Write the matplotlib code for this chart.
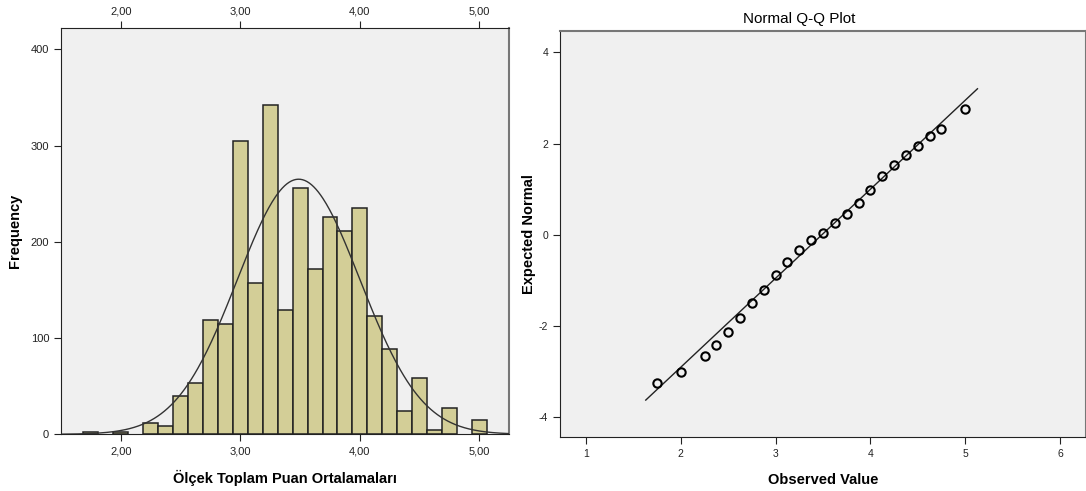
import numpy as np
import matplotlib
matplotlib.use("Agg")
import matplotlib.pyplot as plt
from matplotlib.ticker import FuncFormatter

plt.rcParams['font.family'] = ['Liberation Sans', 'DejaVu Sans']
plt.rcParams['axes.unicode_minus'] = False

# histogram bins (centres, width 0.125) and counts
bin_centers = [1.75, 2.0, 2.25, 2.375, 2.5, 2.625, 2.75, 2.875, 3.0, 3.125,
               3.25, 3.375, 3.5, 3.625, 3.75, 3.875, 4.0, 4.125, 4.25, 4.375,
               4.5, 4.625, 4.75, 5.0]
counts = [2, 2, 12, 9, 40, 53, 119, 115, 305, 157,
          342, 129, 256, 172, 226, 211, 235, 123, 89, 24,
          59, 4, 27, 15]
bin_width = 0.125

# Q-Q plot points
qq_observed = [1.75, 2.0, 2.25, 2.375, 2.5, 2.625, 2.75, 2.875, 3.0, 3.125,
               3.25, 3.375, 3.5, 3.625, 3.75, 3.875, 4.0, 4.125, 4.25, 4.375,
               4.5, 4.625, 4.75, 5.0]
qq_expected = [-3.26, -3.00, -2.65, -2.41, -2.12, -1.82, -1.50, -1.22, -0.89, -0.60,
               -0.34, -0.12, 0.05, 0.27, 0.45, 0.69, 0.98, 1.29, 1.54, 1.74,
               1.94, 2.16, 2.32, 2.77]
qq_line_x = [1.63, 5.13]

hist_xticks = [2.0, 3.0, 4.0, 5.0]
hist_yticks = [0, 100, 200, 300, 400]
qq_xticks = [1, 2, 3, 4, 5, 6]
qq_yticks = [-4, -2, 0, 2, 4]

bg = '#f0f0f0'
bar_color = '#d3ce97'

# normal fit from the binned data
c = np.array(bin_centers)
n = np.array(counts)
total = n.sum()
mean = (c * n).sum() / total
sd = np.sqrt(((c - mean) ** 2 * n).sum() / (total - 1))

fig = plt.figure(figsize=(10.86, 4.91), dpi=100)

# --- histogram ---
ax1 = fig.add_axes([61 / 1086, 1 - 434.3 / 491, 448.3 / 1086, 406 / 491])
ax1.set_facecolor(bg)
ax1.bar(bin_centers, counts, width=bin_width, color=bar_color,
        edgecolor='#222222', linewidth=1.1, zorder=2)
xs = np.linspace(1.5, 5.25, 400)
pdf = total * bin_width * np.exp(-0.5 * ((xs - mean) / sd) ** 2) / (sd * np.sqrt(2 * np.pi))
ax1.plot(xs, pdf, color='#333333', linewidth=1.0, zorder=3)
ax1.set_xlim(1.5, 5.25)
ax1.set_ylim(0, 422)
ax1.set_xticks(hist_xticks)
ax1.set_yticks(hist_yticks)
ax1.xaxis.set_major_formatter(FuncFormatter(lambda v, p: ('%.2f' % v).replace('.', ',')))
ax1.tick_params(axis='x', top=True, labeltop=True, direction='out', length=5,
                labelsize=8, colors='#222222')
ax1.tick_params(axis='y', direction='out', length=5, labelsize=8, colors='#222222')
ax1.set_ylabel('Frequency', fontsize=10.5, fontweight='bold', labelpad=6)
ax1.set_xlabel('Ölçek Toplam Puan Ortalamaları', fontsize=10.5, fontweight='bold', labelpad=10)
for s in ['left', 'bottom', 'top']:
    ax1.spines[s].set_color('#222222')
ax1.spines['right'].set_color('#777777')
ax1.spines['right'].set_linewidth(1.5)

# --- normal Q-Q plot ---
ax2 = fig.add_axes([560 / 1086, 1 - 437.3 / 491, 525.5 / 1086, 406.3 / 491])
ax2.set_facecolor(bg)
line_x = np.array(qq_line_x)
ax2.plot(line_x, (line_x - mean) / sd, color='#222222', linewidth=1.0, zorder=2)
ax2.plot(qq_observed, qq_expected, linestyle='none', marker='o', markersize=6,
         markerfacecolor='none', markeredgecolor='black', markeredgewidth=1.5, zorder=3)
ax2.set_xlim(0.725, 6.27)
ax2.set_ylim(-4.44, 4.47)
ax2.set_xticks(qq_xticks)
ax2.set_yticks(qq_yticks)
ax2.tick_params(direction='out', length=5, labelsize=7.5, colors='#222222')
ax2.set_ylabel('Expected Normal', fontsize=10.5, fontweight='bold', labelpad=2)
ax2.set_xlabel('Observed Value', fontsize=10.5, fontweight='bold', labelpad=10)
ax2.set_title('Normal Q-Q Plot', fontsize=11, x=0.455, pad=6)
for s in ['left', 'bottom']:
    ax2.spines[s].set_color('#222222')
for s in ['top', 'right']:
    ax2.spines[s].set_color('#777777')
    ax2.spines[s].set_linewidth(1.5)

fig.savefig('out.png', dpi=100)
